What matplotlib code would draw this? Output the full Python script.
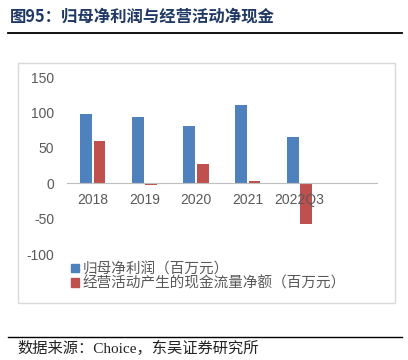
import matplotlib.pyplot as plt
import numpy as np
from matplotlib.lines import Line2D
from matplotlib.patches import Rectangle

categories = ["2018", "2019", "2020", "2021", "2022Q3", ""]
net_profit = [98, 94, 81, 110, 66, np.nan]
operating_cash = [60, -3, 27, 3, -57, np.nan]
y_ticks = [-100, -50, 0, 50, 100, 150]

series_names = ["归母净利润（百万元）", "经营活动产生的现金流量净额（百万元）"]
title = "图95：归母净利润与经营活动净现金"
source = "数据来源：Choice，东吴证券研究所"

blue = "#4F81BD"
red = "#C0504D"
grey_text = "#595959"

plt.rcParams["font.family"] = ["Noto Sans CJK SC", "DejaVu Sans"]
plt.rcParams["axes.unicode_minus"] = False

fig = plt.figure(figsize=(4.08, 3.6), dpi=100)

# outer chart frame
fig.patches.append(Rectangle((0.044, 0.158), 0.924, 0.667, transform=fig.transFigure,
                             fill=False, edgecolor="#D9D9D9", linewidth=1.0))

ax = fig.add_axes([0.164, 0.294, 0.760, 0.492])
x = np.arange(len(categories))
width = 0.23
gap = 0.03
ax.bar(x - (width + gap) / 2, net_profit, width, color=blue, label=series_names[0])
ax.bar(x + (width + gap) / 2, operating_cash, width, color=red, label=series_names[1])

ax.set_xlim(-0.5, len(categories) - 0.5)
ax.set_ylim(-100, 150)
ax.set_yticks(y_ticks)
ax.set_xticks(x)
ax.set_xticklabels(categories)

for side in ["top", "right", "left"]:
    ax.spines[side].set_visible(False)
ax.spines["bottom"].set_position(("data", 0))
ax.spines["bottom"].set_color("#BFBFBF")
ax.spines["bottom"].set_linewidth(0.8)
ax.tick_params(axis="x", length=0, pad=7, labelsize=10, labelcolor=grey_text)
ax.tick_params(axis="y", length=0, pad=9, labelsize=10, labelcolor=grey_text)
for lbl in ax.get_xticklabels() + ax.get_yticklabels():
    lbl.set_family(["Liberation Sans"])
ax.patch.set_visible(False)

handles = [Rectangle((0, 0), 1, 1, color=blue), Rectangle((0, 0), 1, 1, color=red)]
leg = fig.legend(handles, series_names, loc="upper left", bbox_to_anchor=(0.175, 0.272),
                 frameon=False, fontsize=10.5, handlelength=0.55, handleheight=0.55,
                 handletextpad=0.2, labelspacing=0.0, borderaxespad=0, borderpad=0)
for t in leg.get_texts():
    t.set_color(grey_text)

fig.text(0.025, 0.953, title, fontsize=11.8, fontweight="bold", color="#1F3864", va="center")
fig.lines.append(Line2D([0.02, 0.985], [0.908, 0.908], transform=fig.transFigure,
                        color="black", linewidth=1.3))
fig.lines.append(Line2D([0.02, 0.985], [0.064, 0.064], transform=fig.transFigure,
                        color="black", linewidth=1.0))
fig.text(0.043, 0.031, source, fontsize=11, color="#222222", va="center",
         family=["Liberation Serif", "Noto Sans CJK SC"])

fig.savefig("out.png", dpi=100)
plt.close(fig)
